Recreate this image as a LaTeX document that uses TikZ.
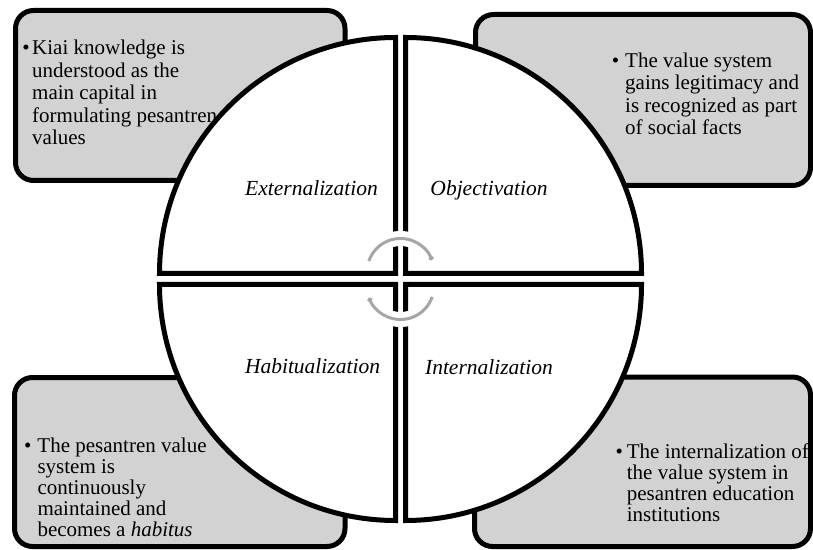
\documentclass[tikz,border=0pt]{standalone}
\usepackage{fontspec}
\setmainfont{Liberation Serif}
\usetikzlibrary{arrows.meta}
\definecolor{boxgray}{RGB}{210,210,210}
\definecolor{arcgray}{RGB}{166,166,166}
\tikzset{
  infobox/.style={draw=black, line width=5pt, fill=boxgray, rounded corners=18pt},
  quad/.style={draw=black, line width=5pt, fill=white, line join=miter},
  boxtext/.style={anchor=north west, inner sep=0pt, align=left, font=\fontsize{21}{22.5}\selectfont},
  boxtextb/.style={anchor=north west, inner sep=0pt, align=left, font=\fontsize{21}{21}\selectfont},
  phase/.style={anchor=base, inner sep=0pt, font=\fontsize{21.5}{22}\selectfont\itshape},
  halo/.style={draw=white, line width=15pt},
  cyclearc/.style={draw=arcgray, line width=3pt}
}
\begin{document}
\begin{tikzpicture}[x=1pt,y=1pt]
\useasboundingbox (0,0) rectangle (813,549);
% corner boxes
\draw[infobox] (15.5,368.5) rectangle (345,538.5);
\draw[infobox] (475.5,363.5) rectangle (810.5,534.5);
\draw[infobox] (14.5,2.5) rectangle (345,171.5);
\draw[infobox] (474.5,2.5) rectangle (810.5,172);
% box texts
\node[boxtext] (tl) at (32,510) {\strut\llap{\textbullet\kern2.5pt}Kiai knowledge is\\understood as the\\main capital in\\formulating pesantren\\values};
\node[boxtext] (tr) at (625,497.7) {\strut\llap{\textbullet\kern6pt}The value system\\gains legitimacy and\\is recognized as part\\of social facts};
\node[boxtextb] (bl) at (37.3,111.1) {\strut\llap{\textbullet\kern6pt}The pesantren value\\system is\\continuously\\maintained and\\becomes a \textit{habitus}};
\node[boxtextb] (br) at (626.7,105.9) {\strut\llap{\textbullet\kern4pt}The internalization of\\the value system in\\pesantren education\\institutions};
% quadrants
\coordinate (qtl) at (395.5,275.5);
\coordinate (qtr) at (405.5,275.5);
\coordinate (qbl) at (395.5,264.5);
\coordinate (qbr) at (405.5,264.5);
\draw[quad] (qtl) -- ++(180:236pt) arc[start angle=180,end angle=90,radius=236pt] -- cycle;
\draw[quad] (qtr) -- ++(90:236pt) arc[start angle=90,end angle=0,radius=236pt] -- cycle;
\draw[quad] (qbl) -- ++(270:236pt) arc[start angle=270,end angle=180,radius=236pt] -- cycle;
\draw[quad] (qbr) -- ++(0:236pt) arc[start angle=0,end angle=-90,radius=236pt] -- cycle;
% cycle arcs
\coordinate (ca) at (400.5,277);
\coordinate (cb) at (400.5,263);
\draw[halo] (ca) ++(150:33.5pt) arc[start angle=150,end angle=30,radius=33.5pt];
\draw[halo] (cb) ++(-30:33.5pt) arc[start angle=-30,end angle=-150,radius=33.5pt];
\draw[cyclearc,-{Straight Barb[length=1.5pt,width=4pt]}] (ca) ++(161:33.5pt) arc[start angle=161,end angle=20,radius=33.5pt];
\draw[cyclearc,-{Straight Barb[length=1.5pt,width=4pt]}] (cb) ++(-19:33.5pt) arc[start angle=-19,end angle=-160,radius=33.5pt];
% phase labels
\node[phase] (ext) at (311.5,353) {Externalization};
\node[phase] (obj) at (489,353) {Objectivation};
\node[phase] (hab) at (312.5,175.7) {Habitualization};
\node[phase] (int) at (489,174.7) {Internalization};
\end{tikzpicture}
\end{document}
